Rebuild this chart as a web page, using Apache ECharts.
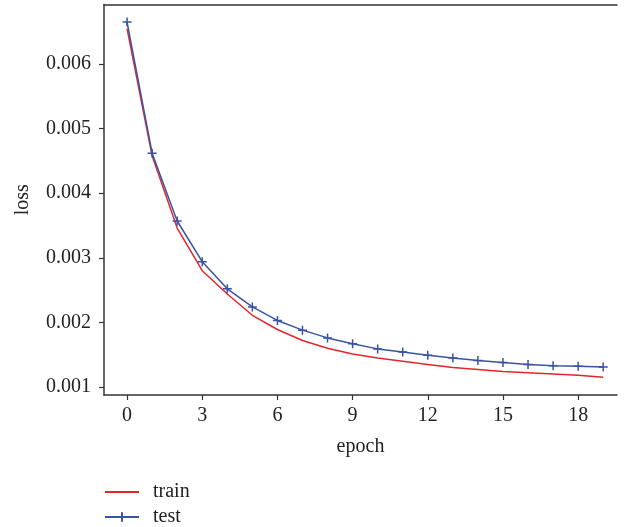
<!DOCTYPE html>
<html>
<head>
<meta charset="utf-8">
<script src="https://cdn.jsdelivr.net/npm/echarts@6/dist/echarts.min.js"></script>
<style>
html,body{margin:0;padding:0;background:#fff;}
#main{width:627px;height:527px;}
</style>
</head>
<body>
<div id="main"></div>
<script>
// values
const epochs = [0,1,2,3,4,5,6,7,8,9,10,11,12,13,14,15,16,17,18,19];
const trainLoss = [0.00655,0.00458,0.00346,0.00280,0.00244,0.00211,0.00189,0.00172,0.00160,0.00151,
                   0.00145,0.00140,0.00135,0.00130,0.00127,0.00124,0.00122,0.00120,0.00118,0.00115];
const testLoss = [0.00665,0.00462,0.00357,0.00294,0.00252,0.00224,0.00203,0.00188,0.00176,0.00167,
                  0.00159,0.00154,0.00149,0.00145,0.00141,0.00138,0.00135,0.00133,0.00132,0.00131];
const xTicks = [0,3,6,9,12,15,18];
const yTicks = [0.001,0.002,0.003,0.004,0.005,0.006];

const font = 'Liberation Serif';
const plus = 'path://M0,5L10,5M5,0L5,10';

let chart = echarts.init(document.getElementById('main'));
let option = {
    animation: false,
    textStyle: { fontFamily: font },
    grid: { left: 104, right: 10, top: 4.5, bottom: 132 },
    legend: {
        orient: 'vertical',
        left: 99,
        top: 477,
        height: 60,
        itemWidth: 34,
        itemHeight: 12,
        itemGap: 5,
        textStyle: { fontFamily: font, fontSize: 20, color: '#222', padding: [0, 0, 0, 9] },
        data: [
            { name: 'train', itemStyle: { color: 'rgba(0,0,0,0)', borderWidth: 0 } },
            'test'
        ]
    },
    xAxis: [{
        type: 'value',
        min: -0.92,
        max: 19.55,
        name: 'epoch',
        nameLocation: 'middle',
        nameGap: 42,
        nameTextStyle: { fontFamily: font, fontSize: 20, color: '#222' },
        splitLine: { show: false },
        axisLine: { onZero: false, lineStyle: { color: '#333', width: 1.5 } },
        axisTick: { customValues: xTicks, length: 5, lineStyle: { color: '#333', width: 1.2 } },
        axisLabel: { customValues: xTicks, margin: 11, fontFamily: font, fontSize: 20, color: '#222' }
    }, {
        type: 'value',
        position: 'top',
        min: -0.92,
        max: 19.55,
        splitLine: { show: false },
        axisLine: { show: true, onZero: false, lineStyle: { color: '#333', width: 1.5 } },
        axisTick: { show: false },
        axisLabel: { show: false }
    }],
    yAxis: {
        type: 'value',
        min: 0.000876,
        max: 0.006922,
        name: 'loss',
        nameLocation: 'middle',
        nameGap: 71,
        nameTextStyle: { fontFamily: font, fontSize: 20, color: '#222' },
        splitLine: { show: false },
        axisLine: { show: true, onZero: false, lineStyle: { color: '#333', width: 1.5 } },
        axisTick: { show: true, customValues: yTicks, length: 5, lineStyle: { color: '#333', width: 1.2 } },
        axisLabel: { customValues: yTicks, margin: 13, fontFamily: font, fontSize: 20, color: '#222',
            formatter: function (v) { return v.toFixed(3); } }
    },
    series: [
        {
            name: 'train',
            type: 'line',
            data: epochs.map((e, i) => [e, trainLoss[i]]),
            showSymbol: false,
            symbol: 'none',
            lineStyle: { color: '#e3262b', width: 1.5 },
            itemStyle: { color: '#e3262b' }
        },
        {
            name: 'test',
            type: 'line',
            data: epochs.map((e, i) => [e, testLoss[i]]),
            symbol: plus,
            symbolSize: 9,
            lineStyle: { color: '#3953a4', width: 1.5 },
            itemStyle: { color: 'none', borderColor: '#3953a4', borderWidth: 1.5 }
        }
    ]
};
chart.setOption(option);
</script>
</body>
</html>
